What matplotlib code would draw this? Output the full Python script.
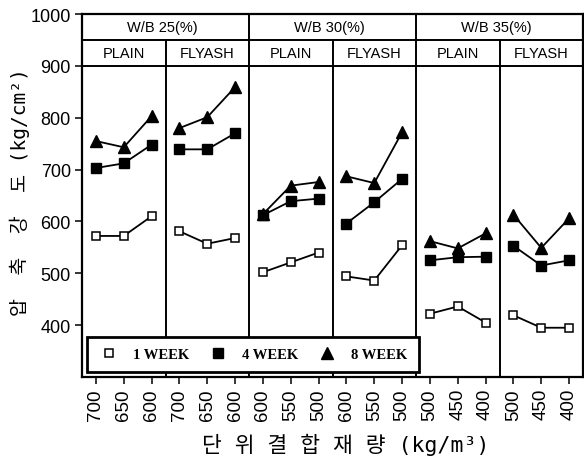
import matplotlib
matplotlib.use("Agg")
import matplotlib.pyplot as plt
from matplotlib.lines import Line2D

# ---- data -------------------------------------------------------------
groups = ["W/B 25(%)", "W/B 30(%)", "W/B 35(%)"]
panel_types = ["PLAIN", "FLYASH", "PLAIN", "FLYASH", "PLAIN", "FLYASH"]
binder_ticks = ["700", "650", "600", "700", "650", "600",
                "600", "550", "500", "600", "550", "500",
                "500", "450", "400", "500", "450", "400"]
week1 = [572, 572, 610, 581, 557, 568,
         502, 521, 540, 494, 486, 554,
         422, 436, 405, 419, 395, 395]
week4 = [703, 712, 748, 739, 739, 770,
         612, 639, 644, 596, 637, 682,
         525, 531, 532, 553, 515, 525]
week8 = [755, 743, 803, 780, 801, 859,
         614, 669, 676, 687, 674, 772,
         562, 548, 577, 613, 549, 606]
series_labels = ["1 WEEK", "4 WEEK", "8 WEEK"]
y_ticks = [400, 500, 600, 700, 800, 900, 1000]

# ---- figure -----------------------------------------------------------
W, H = 584, 464
fig = plt.figure(figsize=(W / 100, H / 100), dpi=100)
ax = fig.add_axes([82 / W, (H - 378) / H, 501 / W, 363 / H])

n = len(binder_ticks)
ax.set_xlim(-0.5, n - 0.5)
ax.set_ylim(300, 1000)

styles = [
    dict(marker="s", ms=6, mfc="white", mec="black", mew=1.1),
    dict(marker="s", ms=6.5, mfc="black", mec="black"),
    dict(marker="^", ms=8, mfc="black", mec="black"),
]
series = [week1, week4, week8]

for p in range(len(panel_types)):
    xs = list(range(3 * p, 3 * p + 3))
    for vals, st in zip(series, styles):
        ax.plot(xs, vals[3 * p:3 * p + 3], color="black", lw=1.3,
                zorder=3, **st)

# header rows and panel dividers
ax.axhline(950, color="black", lw=1.4)
ax.axhline(900, color="black", lw=1.4)
ax.vlines([5.5, 11.5], 300, 1000, color="black", lw=1.4)
ax.vlines([2.5, 8.5, 14.5], 300, 950, color="black", lw=1.4)

hfont = dict(family="Liberation Sans", fontsize=10.5)
for g, name in enumerate(groups):
    ax.text(6 * g + 2.5 - 0.1, 975, name, ha="center", va="center", **hfont)
for p, name in enumerate(panel_types):
    ax.text(3 * p + 1, 925, name, ha="center", va="center", **hfont)

# ticks
ax.set_xticks(range(n))
ax.set_xticklabels(binder_ticks, rotation=90, family="Liberation Sans",
                   fontsize=13.5)
ax.set_yticks(y_ticks)
ax.set_yticklabels([str(v) for v in y_ticks], family="Liberation Sans",
                   fontsize=13)
ax.tick_params(direction="out", length=5, width=1.1, pad=3)
for s in ax.spines.values():
    s.set_linewidth(1.6)

# legend
handles = [Line2D([], [], color="black", ls="none", **st) for st in styles]
leg = ax.legend(handles, series_labels, ncol=3, loc="lower left",
                bbox_to_anchor=(0.01, 0.014, 0.662, 0.096), mode="expand",
                frameon=True, fancybox=False, framealpha=1, borderaxespad=0,
                borderpad=0.75, handlelength=1.5, handletextpad=0.9,
                columnspacing=1.0,
                prop=dict(family="Liberation Serif", weight="bold", size=10.5))
leg.get_frame().set_edgecolor("black")
leg.get_frame().set_linewidth(2)
leg.set_zorder(10)

# axis labels
fig.text(20 / W, 1 - 192 / H, "압  축  강  도 (kg/cm²)", rotation=90,
         ha="center", va="center", fontsize=14,
         family=["DejaVu Sans Mono", "Noto Sans CJK KR"])
fig.text(346 / W, 1 - 445 / H, "단 위 결 합 재 량 (kg/m³)",
         ha="center", va="center", fontsize=15.5,
         family=["DejaVu Sans Mono", "Noto Sans CJK KR"])

fig.savefig("out.png", dpi=100)
